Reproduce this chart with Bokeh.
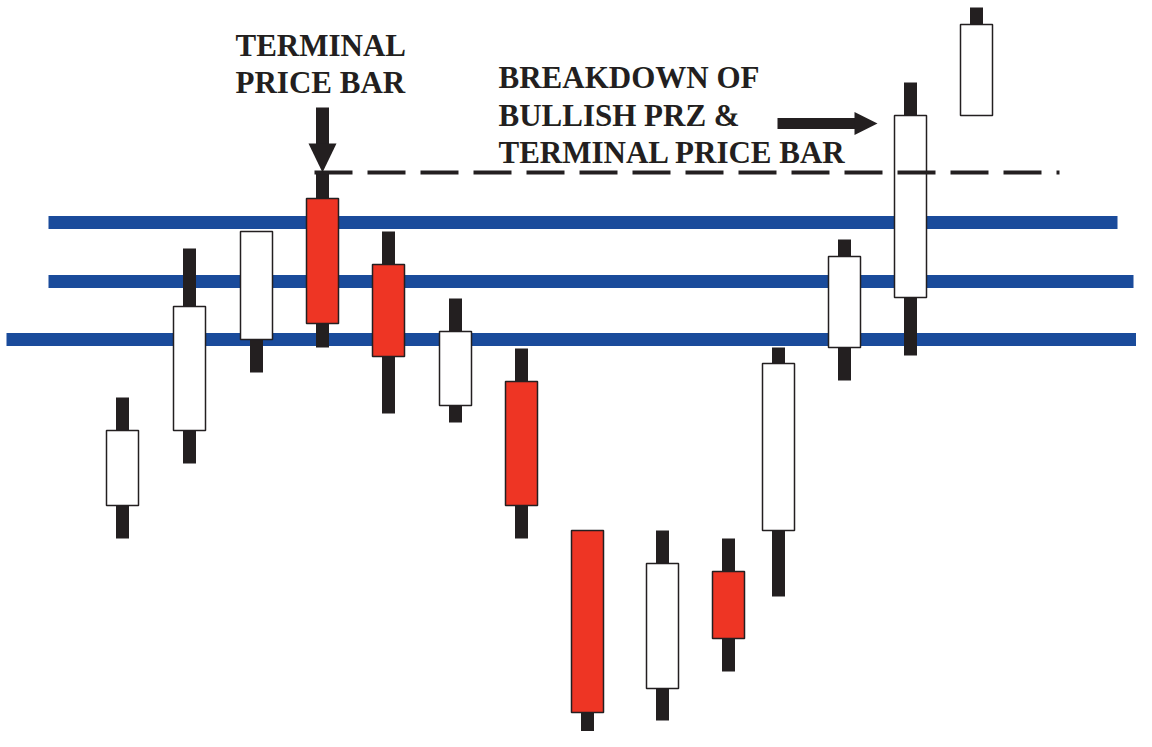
from bokeh.plotting import figure
from bokeh.models import Range1d, ColumnDataSource, Label
from bokeh.embed import file_html
from bokeh.resources import INLINE

# ---- data (price units; higher = up) ----
bar_x = [122, 189, 256, 322, 388, 455, 521, 587, 662, 728, 778, 844, 910, 976]
opens = [242, 317, 408, 549, 483, 342, 366, 217, 59, 176, 217, 400, 450, 632]
highs = [350, 499, 516, 575, 516, 449, 399, 217, 217, 209, 400, 508, 665, 740]
lows = [209, 284, 375, 400, 334, 325, 209, 2, 27, 76, 151, 367, 392, 632]
closes = [317, 441, 516, 424, 391, 416, 242, 35, 184, 109, 384, 491, 632, 723]

prz_levels = [525, 466, 408]
prz_start = [48, 48, 6]
prz_end = [1117, 1133, 1150]

terminal_idx = 3
label1_lines = ["TERMINAL", "PRICE BAR"]
label2_lines = ["BREAKDOWN OF", "BULLISH PRZ &", "TERMINAL PRICE BAR"]

RED = "#ee3524"
DARK = "#231f20"
BLUE = "#1a4b9b"

p = figure(width=1136, height=731, output_backend="svg", toolbar_location=None,
           x_axis_location=None, y_axis_location=None,
           x_range=Range1d(0, 1136), y_range=Range1d(16, 747),
           min_border=0, background_fill_color="white", border_fill_color="white")
p.outline_line_color = None
p.xgrid.visible = False
p.ygrid.visible = False

# PRZ lines
p.segment(x0=prz_start, y0=prz_levels, x1=prz_end, y1=prz_levels,
          line_color=BLUE, line_width=13, line_cap="butt")

# candles
tops = [max(o, c) for o, c in zip(opens, closes)]
bots = [min(o, c) for o, c in zip(opens, closes)]
fills = ["white" if c > o else RED for o, c in zip(opens, closes)]
src = ColumnDataSource(dict(x=bar_x, h=highs, l=lows, t=tops, b=bots, f=fills))
p.vbar(x="x", top="h", bottom="l", width=13, source=src,
       fill_color=DARK, line_color=None)
p.vbar(x="x", top="t", bottom="b", width=32, source=src,
       fill_color="f", line_color=DARK, line_width=1.5)

# terminal price bar dashed level
tx = bar_x[terminal_idx]
th = highs[terminal_idx]
p.segment(x0=[tx - 8], y0=[th], x1=[1059], y1=[th], line_color=DARK,
          line_width=4, line_dash="38 15", line_cap="butt")

# down arrow onto terminal bar
p.quad(left=[tx - 6.5], right=[tx + 6.5], top=[th + 65], bottom=[th + 28],
       fill_color=DARK, line_color=None)
p.patch(x=[tx - 14, tx + 14, tx], y=[th + 29, th + 29, th],
        fill_color=DARK, line_color=None)

# right arrow to breakdown bar
ay = 624
p.quad(left=[777], right=[855], top=[ay + 5.5], bottom=[ay - 5.5],
       fill_color=DARK, line_color=None)
p.patch(x=[854, 854, 877], y=[ay + 11.5, ay - 11.5, ay],
        fill_color=DARK, line_color=None)

# labels
def add_lines(lines, x, first_baseline, step):
    for i, t in enumerate(lines):
        p.add_layout(Label(x=x, y=first_baseline - i * step, text=t,
                           text_font="Liberation Serif", text_font_style="bold",
                           text_font_size="31px", text_color=DARK,
                           text_baseline="alphabetic", text_align="left"))

add_lines(label1_lines, 235, 747 - 45, 37)
add_lines(label2_lines, 498, 747 - 77, 37.5)

open("out.html", "w").write(file_html(p, INLINE))
